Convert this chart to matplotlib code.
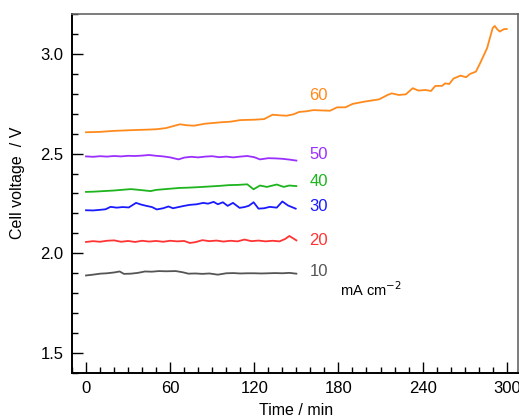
import numpy as np
import matplotlib
matplotlib.use("Agg")
import matplotlib.pyplot as plt
from matplotlib.ticker import MultipleLocator

plt.rcParams['font.family'] = ['Liberation Sans', 'DejaVu Sans']

# 60 mA cm-2
t60 = [0, 10, 20, 34, 43, 50, 57, 67, 72, 77, 85, 96, 103, 110, 120, 127, 133, 138, 143, 148,
       152, 157, 162, 174, 179, 185, 190, 198, 209, 215, 218, 223, 228, 233, 237, 242, 246,
       249, 254, 256, 259, 262, 267, 271, 274, 278, 281, 286, 288, 290, 291.5, 293, 295, 298, 300]
v60 = [2.607, 2.609, 2.614, 2.618, 2.620, 2.622, 2.628, 2.647, 2.642, 2.640, 2.650, 2.657, 2.660,
       2.668, 2.670, 2.673, 2.695, 2.692, 2.690, 2.697, 2.709, 2.712, 2.718, 2.715, 2.732, 2.732,
       2.749, 2.760, 2.772, 2.794, 2.802, 2.794, 2.797, 2.828, 2.816, 2.819, 2.814, 2.839, 2.840,
       2.852, 2.849, 2.876, 2.891, 2.883, 2.900, 2.911, 2.953, 3.029, 3.080, 3.130, 3.140, 3.125,
       3.112, 3.124, 3.125]

# 50 mA cm-2
t50 = [0, 5, 10, 15, 20, 25, 30, 35, 40, 45, 50, 55, 60, 66, 70, 75, 80, 85, 90, 95,
       100, 105, 110, 115, 120, 124, 130, 135, 140, 145, 150]
v50 = [2.486, 2.484, 2.487, 2.485, 2.488, 2.486, 2.489, 2.488, 2.490, 2.493, 2.489, 2.486,
       2.481, 2.471, 2.480, 2.484, 2.481, 2.485, 2.487, 2.482, 2.485, 2.481, 2.485, 2.488,
       2.482, 2.471, 2.477, 2.476, 2.474, 2.470, 2.465]

# 40 mA cm-2
t40 = [0, 5, 10, 15, 20, 25, 32, 38, 46, 50, 55, 60, 67, 72, 78, 83, 90, 95, 102, 108,
       115, 119.5, 124, 129, 136, 141, 145, 150]
v40 = [2.308, 2.309, 2.311, 2.313, 2.315, 2.318, 2.322, 2.318, 2.312, 2.318, 2.321, 2.324,
       2.328, 2.329, 2.331, 2.333, 2.336, 2.338, 2.342, 2.343, 2.346, 2.321, 2.340, 2.333,
       2.345, 2.333, 2.340, 2.337]

# 30 mA cm-2
t30 = [0, 5, 10, 14, 17.5, 22, 26, 30.5, 35.7, 39, 43, 47, 50.5, 55, 58.8, 62, 66, 70, 74,
       79, 83.6, 87, 91, 94, 97.6, 101, 104.8, 109.5, 113, 116, 119.5, 123, 127, 131, 136,
       140, 144, 149.5]
v30 = [2.216, 2.215, 2.218, 2.221, 2.233, 2.229, 2.232, 2.230, 2.253, 2.245, 2.238, 2.232,
       2.220, 2.226, 2.235, 2.226, 2.232, 2.238, 2.243, 2.246, 2.253, 2.249, 2.258, 2.246,
       2.256, 2.238, 2.253, 2.228, 2.232, 2.238, 2.256, 2.224, 2.226, 2.233, 2.229, 2.260,
       2.240, 2.224]

# 20 mA cm-2
t20 = [0, 5, 10, 15, 20, 25, 30, 35, 40, 45, 50, 55, 60, 65, 70, 74, 78, 83, 88, 93,
       98, 103, 108, 113, 118, 123, 128, 133, 138, 142, 145, 150]
v20 = [2.057, 2.061, 2.058, 2.063, 2.065, 2.058, 2.062, 2.057, 2.063, 2.059, 2.062, 2.058,
       2.063, 2.060, 2.062, 2.052, 2.056, 2.066, 2.061, 2.064, 2.059, 2.063, 2.060, 2.069,
       2.061, 2.064, 2.060, 2.063, 2.060, 2.072, 2.087, 2.065]

# 10 mA cm-2
t10 = [0, 5, 10, 15, 20, 24, 27, 32, 37, 42, 47, 52, 57, 64, 69, 73, 78, 83, 88, 94,
       100, 105, 110, 115, 120, 125, 130, 135, 140, 145, 150]
v10 = [1.889, 1.893, 1.898, 1.900, 1.904, 1.909, 1.897, 1.898, 1.902, 1.909, 1.908, 1.911,
       1.910, 1.911, 1.905, 1.898, 1.899, 1.897, 1.899, 1.893, 1.900, 1.901, 1.899, 1.900,
       1.900, 1.899, 1.900, 1.901, 1.900, 1.902, 1.898]

series = [(t60, v60, '#ff8a1c'), (t50, v50, '#9a2fff'), (t40, v40, '#1db41d'),
          (t30, v30, '#1a1aff'), (t20, v20, '#ff3333'), (t10, v10, '#555555')]

labels = ['60', '50', '40', '30', '20', '10']
label_y = [2.79, 2.497, 2.36, 2.236, 2.065, 1.91]

fig = plt.figure(figsize=(5.19, 4.19), dpi=100)
ax = fig.add_axes([0.1387, 0.1098, 0.8593, 0.8568])

for (t, v, c), lab, ly in zip(series, labels, label_y):
    ax.plot(t, v, color=c, lw=1.3)
    ax.text(166, ly, lab, color=c, fontsize=12, ha='center', va='center')

ax.text(203, 1.82, 'mA cm$^{\u22122}$', fontsize=10.5, ha='center', va='center')

ax.set_xlim(-10, 308)
ax.set_ylim(1.4, 3.2)
ax.xaxis.set_major_locator(MultipleLocator(60))
ax.xaxis.set_minor_locator(MultipleLocator(10))
ax.yaxis.set_major_locator(MultipleLocator(0.5))
ax.yaxis.set_minor_locator(MultipleLocator(0.1))
ax.tick_params(which='both', direction='in', labelsize=12, width=1)
ax.tick_params(which='major', length=8)
ax.tick_params(which='minor', length=4)
ax.tick_params(axis='x', pad=6)
ax.tick_params(axis='y', pad=6)

for s in ['left', 'bottom']:
    ax.spines[s].set_linewidth(1.4)
for s in ['top', 'right']:
    ax.spines[s].set_color('#666666')
    ax.spines[s].set_linewidth(1.2)

ax.set_xlabel('Time / min', fontsize=11.5)
ax.set_ylabel('Cell voltage  / V', fontsize=11.5)
ax.xaxis.set_label_coords(0.502, -0.083)
ax.yaxis.set_label_coords(-0.105, 0.53)

fig.savefig('out.png', dpi=100)
